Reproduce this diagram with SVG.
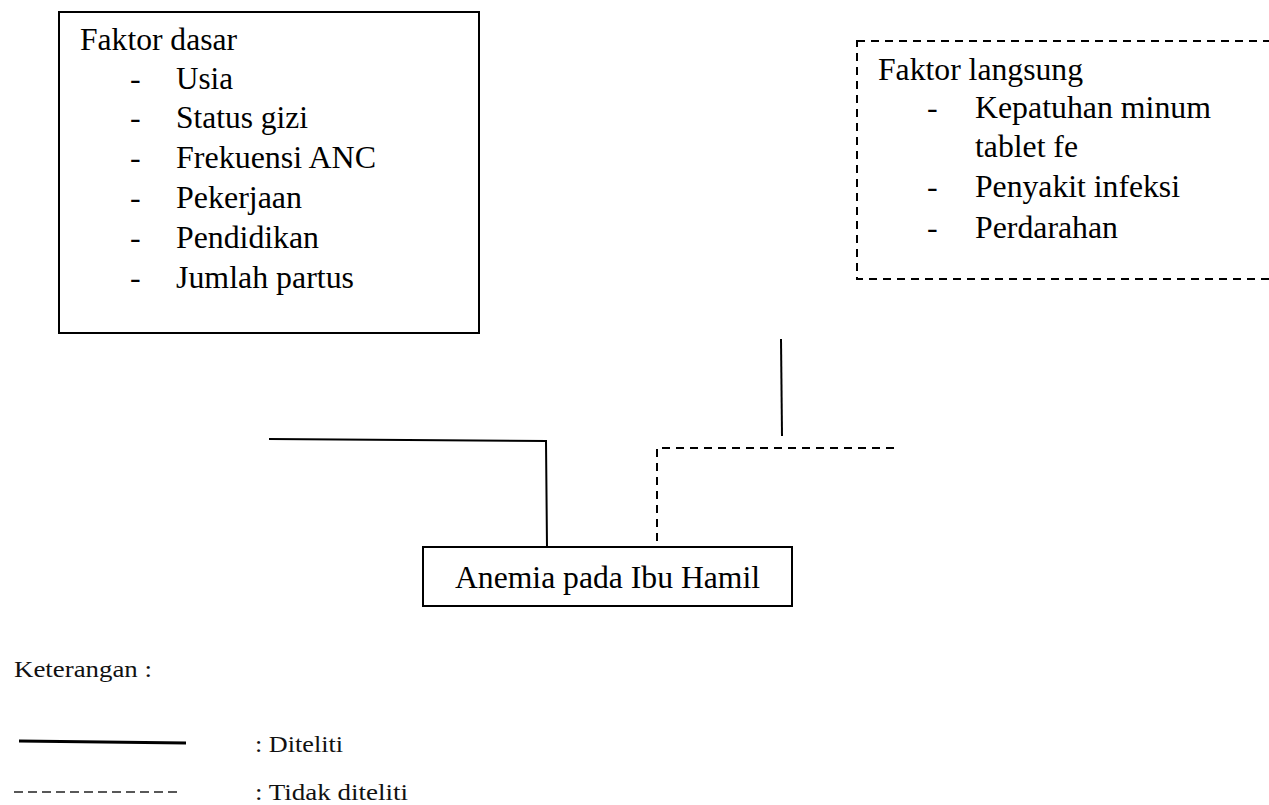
<svg xmlns="http://www.w3.org/2000/svg" width="1269" height="805" viewBox="0 0 1269 805">
<style>
.t{font-family:"Liberation Serif","Times New Roman",serif;font-size:32px;fill:#000}
.lg{font-family:"Liberation Serif","Times New Roman",serif;font-size:24px;fill:#111}
.box{fill:#fff;stroke:#000;stroke-width:2}
.dbox{fill:none;stroke:#000;stroke-width:2;stroke-dasharray:8 6}
.solid{fill:none;stroke:#000;stroke-width:2}
.dash{fill:none;stroke:#000;stroke-width:2;stroke-dasharray:8 6}
</style>
<rect width="1269" height="805" fill="#fff"/>
<g id="connectors">
  <polyline class="solid" points="269,439 546,441 547,547"/>
  <polyline class="dash" points="894,448 657,448 657,547"/>
  <line class="solid" x1="781" y1="339" x2="782" y2="436"/>
</g>
<g id="faktor-dasar">
  <rect class="box" x="59" y="12" width="420" height="321"/>
  <text class="t" x="80" y="50" textLength="157" lengthAdjust="spacingAndGlyphs">Faktor dasar</text>
  <text class="t" x="130" y="89">-</text>
  <text class="t" x="176" y="89" textLength="57" lengthAdjust="spacingAndGlyphs">Usia</text>
  <text class="t" x="130" y="128">-</text>
  <text class="t" x="176" y="128" textLength="132" lengthAdjust="spacingAndGlyphs">Status gizi</text>
  <text class="t" x="130" y="168">-</text>
  <text class="t" x="176" y="168" textLength="200" lengthAdjust="spacingAndGlyphs">Frekuensi ANC</text>
  <text class="t" x="130" y="208">-</text>
  <text class="t" x="176" y="208" textLength="126" lengthAdjust="spacingAndGlyphs">Pekerjaan</text>
  <text class="t" x="130" y="248">-</text>
  <text class="t" x="176" y="248" textLength="143" lengthAdjust="spacingAndGlyphs">Pendidikan</text>
  <text class="t" x="130" y="288">-</text>
  <text class="t" x="176" y="288" textLength="178" lengthAdjust="spacingAndGlyphs">Jumlah partus</text>
</g>
<g id="faktor-langsung">
  <rect class="dbox" x="857" y="41" width="430" height="238"/>
  <text class="t" x="878" y="80" textLength="205" lengthAdjust="spacingAndGlyphs">Faktor langsung</text>
  <text class="t" x="927" y="118">-</text>
  <text class="t" x="975" y="118" textLength="236" lengthAdjust="spacingAndGlyphs">Kepatuhan minum</text>
  <text class="t" x="975" y="157" textLength="103" lengthAdjust="spacingAndGlyphs">tablet fe</text>
  <text class="t" x="927" y="197">-</text>
  <text class="t" x="975" y="197" textLength="205" lengthAdjust="spacingAndGlyphs">Penyakit infeksi</text>
  <text class="t" x="927" y="238">-</text>
  <text class="t" x="975" y="238" textLength="143" lengthAdjust="spacingAndGlyphs">Perdarahan</text>
</g>
<g id="anemia">
  <rect class="box" x="423" y="547" width="369" height="59"/>
  <text class="t" x="455" y="588" textLength="305" lengthAdjust="spacingAndGlyphs">Anemia pada Ibu Hamil</text>
</g>
<g id="legend">
  <text class="lg" x="14" y="677" textLength="138" lengthAdjust="spacingAndGlyphs">Keterangan :</text>
  <line x1="19" y1="741" x2="186" y2="743" stroke="#000" stroke-width="3.2"/>
  <text class="lg" x="255" y="752" textLength="88" lengthAdjust="spacingAndGlyphs">: Diteliti</text>
  <line x1="14" y1="792" x2="182" y2="792" stroke="#222" stroke-width="1.6" stroke-dasharray="9 5"/>
  <text class="lg" x="255" y="800" textLength="153" lengthAdjust="spacingAndGlyphs">: Tidak diteliti</text>
</g>
</svg>
